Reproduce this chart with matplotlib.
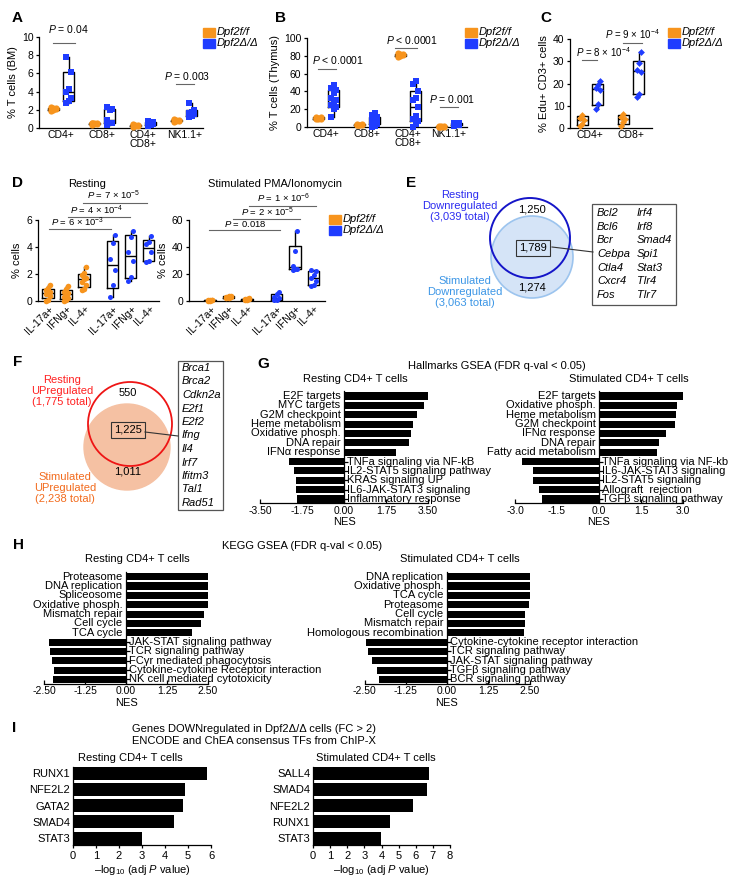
import numpy as np
import matplotlib
matplotlib.use("Agg")
from matplotlib import pyplot as plt
from matplotlib.patches import Circle, Rectangle

plt.rcParams["font.family"] = ["Liberation Sans", "DejaVu Sans"]
plt.rcParams["mathtext.fontset"] = "custom"
plt.rcParams["mathtext.rm"] = "Liberation Sans"
plt.rcParams["mathtext.it"] = "Liberation Sans:italic"
plt.rcParams["mathtext.bf"] = "Liberation Sans:bold"
plt.rcParams["font.size"] = 8
plt.rcParams["axes.linewidth"] = 0.9
plt.rcParams["xtick.major.width"] = 0.9
plt.rcParams["ytick.major.width"] = 0.9
plt.rcParams["xtick.major.size"] = 2.5
plt.rcParams["ytick.major.size"] = 2.5
plt.rcParams["xtick.labelsize"] = 7.5
plt.rcParams["ytick.labelsize"] = 7.5
plt.rcParams["xtick.major.pad"] = 1.5
plt.rcParams["ytick.major.pad"] = 1.5

ORANGE = "#F7941D"
BLUE = "#1F3CFF"

# ---------------- data ----------------
# A  % T cells (BM)
cats_A = ["CD4+", "CD8+", "CD4+\nCD8+", "NK1.1+"]
A_ff = [[1.9, 2.0, 2.1, 2.1, 2.2, 2.2, 2.3],
        [0.35, 0.4, 0.45, 0.5, 0.5, 0.55, 0.6],
        [0.15, 0.2, 0.25, 0.3, 0.3, 0.35, 0.4],
        [0.7, 0.75, 0.8, 0.85, 0.85, 0.9, 0.95]]
A_dd = [[2.7, 3.0, 3.3, 4.0, 4.3, 6.2, 7.8],
        [0.3, 0.5, 0.6, 0.9, 2.0, 2.1, 2.3],
        [0.2, 0.3, 0.4, 0.5, 0.6, 0.7, 0.8],
        [1.2, 1.3, 1.5, 1.7, 1.8, 2.0, 2.7]]

# B  % T cells (Thymus)
cats_B = ["CD4+", "CD8+", "CD4+\nCD8+", "NK1.1+"]
B_ff = [[8.5, 9, 9.5, 10, 10.5, 11, 11.5],
        [2, 2.3, 2.5, 2.7, 2.8, 3, 3.2],
        [79, 80, 80.5, 81, 81.5, 82, 83],
        [0.3, 0.4, 0.5, 0.5, 0.6, 0.7, 0.8]]
B_dd = [[11, 20, 22, 25, 28, 30, 33, 38, 42, 44, 47],
        [0.5, 1.5, 3, 4, 5, 6, 7, 9, 11, 14, 16],
        [0.5, 3, 7, 9, 12, 22, 30, 33, 41, 48, 52],
        [1.5, 2, 2.3, 2.6, 2.8, 3, 3.3, 3.6, 4, 4.4, 5]]

# C  % Edu+ CD3+ cells
cats_C = ["CD4+", "CD8+"]
C_ff = [[1, 2, 3.5, 4.5, 6], [1, 2.5, 4, 5, 6.5]]
C_dd = [[8.5, 11, 17, 18, 19.5, 21], [14, 15.5, 25, 26, 29, 34]]

# D  % cells, cytokines
cats_D = ["IL-17a+", "IFNg+", "IL-4+"]
D_rest_ff = [[0, 0.1, 0.4, 0.5, 0.6, 0.7, 0.8, 1.0, 1.2],
             [0, 0.05, 0.2, 0.3, 0.5, 0.6, 0.7, 0.9, 1.1],
             [0.8, 0.9, 1.2, 1.4, 1.6, 1.7, 1.9, 2.1, 2.5]]
D_rest_dd = [[0.3, 1.2, 2.3, 3.1, 4.3, 4.9],
             [1.5, 1.8, 3.0, 3.6, 4.75, 5.2],
             [2.9, 3.0, 3.6, 4.2, 4.4, 4.8]]
D_stim_ff = [[0, 0.2, 0.5, 0.5, 0.8, 1.0],
             [2, 2.5, 3, 3.2, 3.5, 4],
             [0.8, 1, 1.3, 1.5, 1.8, 2]]
D_stim_dd = [[0.5, 1, 2, 3, 5, 7],
             [23, 23.5, 24, 26, 37, 52],
             [11, 12, 15, 17, 19, 22, 23]]

# E / F  Venn counts and genes
E_counts = [1250, 1789, 1274]
E_genes_1 = ["Bcl2", "Bcl6", "Bcr", "Cebpa", "Ctla4", "Cxcr4", "Fos"]
E_genes_2 = ["Irf4", "Irf8", "Smad4", "Spi1", "Stat3", "Tlr4", "Tlr7"]
F_counts = [550, 1225, 1011]
F_genes = ["Brca1", "Brca2", "Cdkn2a", "E2f1", "E2f2", "Ifng", "Il4",
           "Irf7", "Ifitm3", "Tal1", "Rad51"]

# G  Hallmarks GSEA
G_rest_terms = ["E2F targets", "MYC targets", "G2M checkpoint", "Heme metabolism",
                "Oxidative phosph.", "DNA repair", "IFNα response",
                "TNFa signaling via NF-kB", "IL2-STAT5 signaling pathway",
                "KRAS signaling UP", "IL6-JAK-STAT3 signaling", "Inflammatory response"]
G_rest_nes = [3.48, 3.32, 3.03, 2.86, 2.8, 2.72, 2.15, -2.3, -2.08, -2.02, -1.98, -1.95]
G_stim_terms = ["E2F targets", "Oxidative phosph.", "Heme metabolism", "G2M checkpoint",
                "IFNα response", "DNA repair", "Fatty acid metabolism",
                "TNFa signaling via NF-kb", "IL6-JAK-STAT3 signaling",
                "IL2-STAT5 signaling", "Allograft  rejection", "TGFβ signaling pathway"]
G_stim_nes = [3.12, 2.78, 2.76, 2.72, 2.38, 2.13, 2.06, -2.76, -2.37, -2.35, -2.15, -2.02]

# H  KEGG GSEA
H_rest_terms = ["Proteasome", "DNA replication", "Spliceosome", "Oxidative phosph.",
                "Mismatch repair", "Cell cycle", "TCA cycle",
                "JAK-STAT signaling pathway", "TCR signaling pathway",
                "FCγr mediated phagocytosis", "Cytokine-cytokine Receptor interaction",
                "NK cell mediated cytotoxicity"]
H_rest_nes = [2.93, 2.84, 2.74, 2.65, 2.38, 2.29, 2.01, -2.35, -2.32, -2.26, -2.2, -2.23]
H_stim_terms = ["DNA replication", "Oxidative phosph.", "TCA cycle", "Proteasome",
                "Cell cycle", "Mismatch repair", "Homologous recombination",
                "Cytokine-cytokine receptor interaction", "TCR signaling pathway",
                "JAK-STAT signaling pathway", "TGFβ signaling pathway",
                "BCR signaling pathway"]
H_stim_nes = [2.77, 2.77, 2.5, 2.47, 2.35, 2.35, 2.34, -2.45, -2.4, -2.27, -2.12, -2.05]

# I  ChIP-X TF enrichment
I_rest_tfs = ["RUNX1", "NFE2L2", "GATA2", "SMAD4", "STAT3"]
I_rest_vals = [5.82, 4.87, 4.8, 4.38, 3.0]
I_stim_tfs = ["SALL4", "SMAD4", "NFE2L2", "RUNX1", "STAT3"]
I_stim_vals = [6.78, 6.67, 5.85, 4.5, 3.97]

# ---------------- figure ----------------
W, H = 746, 890
fig = plt.figure(figsize=(W / 100, H / 100), dpi=100)


def px_axes(l, t, r, b):
    return fig.add_axes([l / W, 1 - b / H, (r - l) / W, (b - t) / H])


def dotbox(ax, pos, pts, color, marker, s, bw, spread):
    q1, med, q3 = np.percentile(pts, [25, 50, 75], method="weibull")
    st = dict(med=med, q1=q1, q3=q3, whislo=min(pts), whishi=max(pts), fliers=[])
    lp = dict(color="black", lw=1.0)
    ax.bxp([st], positions=[pos], widths=bw, showfliers=False, showcaps=False,
           boxprops=lp, whiskerprops=lp, medianprops=lp, manage_ticks=False, zorder=2)
    offs = ((np.arange(len(pts)) % 3) - 1) * spread
    ax.scatter(pos + offs, pts, s=s, marker=marker, color=color, zorder=3,
               linewidths=0, clip_on=False)


def bracket(ax, x0, x1, y, label, tx, ty, fs=7.5, ha="center", va="center"):
    ax.plot([x0, x1], [y, y], color="#666666", lw=0.8, clip_on=False)
    ax.text(tx, ty, label, ha=ha, va=va, fontsize=fs, clip_on=False)


def clean(ax):
    ax.spines[["top", "right"]].set_visible(False)


# ---- A ----
axA = px_axes(39, 37, 203, 128)
xs = np.arange(len(cats_A))
for i in range(len(cats_A)):
    dotbox(axA, xs[i] - 0.19, A_ff[i], ORANGE, "o", 20, 0.27, 0.06)
    dotbox(axA, xs[i] + 0.19, A_dd[i], BLUE, "s", 17, 0.27, 0.06)
axA.set_xlim(-0.54, 3.46)
axA.set_ylim(0, 10)
axA.set_xticks(xs, cats_A, linespacing=0.9)
axA.set_yticks([0, 2, 4, 6, 8, 10])
axA.tick_params(axis="x", length=0)
axA.set_ylabel("% T cells (BM)", labelpad=3)
clean(axA)
bracket(axA, -0.2, 0.34, 9.35, "$P$ = 0.04", 0.17, 10.9)
bracket(axA, 2.8, 3.24, 4.8, "$P$ = 0.003", 3.07, 5.7)

# ---- B ----
axB = px_axes(307, 38, 467, 127)
xs = np.arange(len(cats_B))
for i in range(len(cats_B)):
    dotbox(axB, xs[i] - 0.19, B_ff[i], ORANGE, "o", 20, 0.27, 0.06)
    dotbox(axB, xs[i] + 0.19, B_dd[i], BLUE, "s", 17, 0.27, 0.06)
axB.set_xlim(-0.46, 3.44)
axB.set_ylim(0, 100)
axB.set_xticks(xs, cats_B, linespacing=0.9)
axB.set_yticks([0, 20, 40, 60, 80, 100])
axB.tick_params(axis="x", length=0)
axB.set_ylabel("% T cells (Thymus)", labelpad=3)
clean(axB)
bracket(axB, -0.2, 0.24, 65, "$P$ < 0.0001", 0.29, 75)
bracket(axB, 1.68, 2.22, 88.7, "$P$ < 0.0001", 2.09, 97.5)
bracket(axB, 2.78, 3.22, 22.5, "$P$ = 0.001", 3.07, 31.5)

# ---- C ----
axC = px_axes(570, 39, 652, 128)
xs = np.arange(len(cats_C))
for i in range(len(cats_C)):
    dotbox(axC, xs[i] - 0.19, C_ff[i], ORANGE, "D", 12, 0.27, 0.05)
    dotbox(axC, xs[i] + 0.19, C_dd[i], BLUE, "D", 12, 0.27, 0.05)
axC.set_xlim(-0.49, 1.51)
axC.set_ylim(0, 40)
axC.set_xticks(xs, cats_C)
axC.set_yticks([0, 10, 20, 30, 40])
axC.tick_params(axis="x", length=0)
axC.set_ylabel("% Edu+ CD3+ cells", labelpad=3)
clean(axC)
bracket(axC, -0.2, 0.17, 30.5, r"$P$ = 8 × 10$^{-4}$", 0.32, 34.2, fs=7)
bracket(axC, 0.8, 1.27, 38, r"$P$ = 9 × 10$^{-4}$", 1.02, 42, fs=7)

# ---- D ----
pos_ff = np.array([1, 2, 3])
pos_dd = np.array([4.6, 5.6, 6.6])
for (l, r, xl, ymax, yt, dff, ddd) in [(38, 159, (0.444, 7.17), 6, [0, 2, 4, 6], D_rest_ff, D_rest_dd),
                                        (189, 325, (-0.14, 7.22), 60, [0, 20, 40, 60], D_stim_ff, D_stim_dd)]:
    ax = px_axes(l, 220, r, 301)
    for i in range(3):
        dotbox(ax, pos_ff[i], dff[i], ORANGE, "o", 16, 0.62, 0.13)
        dotbox(ax, pos_dd[i], ddd[i], BLUE, "o", 13, 0.62, 0.13)
    ax.set_xlim(*xl)
    ax.set_ylim(0, ymax)
    ax.set_yticks(yt)
    ax.set_xticks(np.concatenate([pos_ff, pos_dd]), cats_D * 2, rotation=45,
                  ha="right", rotation_mode="anchor")
    ax.tick_params(axis="x", length=0, pad=2)
    ax.set_ylabel("% cells", labelpad=3)
    clean(ax)
    if ymax == 6:
        axDl = ax
    else:
        axDr = ax

bracket(axDl, 2.94, 6.5, 7.26, r"$P$ = 7 × 10$^{-5}$", 3.15, 7.3, fs=6.8, ha="left", va="bottom")
bracket(axDl, 2.11, 5.56, 6.2, r"$P$ = 4 × 10$^{-4}$", 2.2, 6.24, fs=6.8, ha="left", va="bottom")
bracket(axDl, 1.05, 4.5, 5.33, r"$P$ = 6 × 10$^{-3}$", 1.15, 5.37, fs=6.8, ha="left", va="bottom")
bracket(axDr, 3.1, 6.73, 70.6, r"$P$ = 1 × 10$^{-6}$", 5.0, 71.0, fs=6.8, va="bottom")
bracket(axDr, 2.24, 5.86, 60.7, r"$P$ = 2 × 10$^{-5}$", 4.1, 61.1, fs=6.8, va="bottom")
bracket(axDr, 0.95, 4.78, 52.6, "$P$ = 0.018", 2.9, 53.0, fs=6.8, va="bottom")


# ---- G / H ----
def gsea(ax, terms, nes, lim, ticks, fmt):
    y = np.arange(len(terms))
    ax.barh(y, nes, height=0.76, color="black")
    ax.set_xlim(-lim, lim)
    ax.set_ylim(len(terms) - 0.57, -0.5)
    clean(ax)
    ax.spines["left"].set_position(("data", 0))
    neg = y[np.array(nes) < 0]
    ax.set_yticks(neg, [""] * len(neg))
    ax.tick_params(axis="y", direction="in", length=3)
    ax.set_xticks(ticks, [fmt.format(t) for t in ticks])
    ax.tick_params(axis="x", direction="in", length=3, pad=2)
    for yi, t, v in zip(y, terms, nes):
        if v > 0:
            ax.annotate(t, (0, yi), xytext=(-2.5, 0), textcoords="offset points",
                        ha="right", va="center", fontsize=8)
        else:
            ax.annotate(t, (0, yi), xytext=(2.5, 0), textcoords="offset points",
                        ha="left", va="center", fontsize=8)
    ax.set_xlabel("NES", labelpad=1, fontsize=8)


gsea(px_axes(260, 391.3, 428, 503), G_rest_terms, G_rest_nes, 3.5,
     [-3.5, -1.75, 0, 1.75, 3.5], "{:.2f}")
gsea(px_axes(515, 391.3, 683, 503), G_stim_terms, G_stim_nes, 3.0,
     [-3.0, -1.5, 0, 1.5, 3.0], "{:.1f}")
gsea(px_axes(44, 572, 208, 683.5), H_rest_terms, H_rest_nes, 2.5,
     [-2.5, -1.25, 0, 1.25, 2.5], "{:.2f}")
gsea(px_axes(364.5, 572, 529.5, 683.5), H_stim_terms, H_stim_nes, 2.5,
     [-2.5, -1.25, 0, 1.25, 2.5], "{:.2f}")

# ---- I ----
for (l, r, tfs, vals, xmax) in [(73, 211, I_rest_tfs, I_rest_vals, 6),
                               (313, 450, I_stim_tfs, I_stim_vals, 8)]:
    ax = px_axes(l, 766.5, r, 845)
    y = np.arange(len(tfs))
    ax.barh(y, vals, height=0.8, color="black")
    ax.set_xlim(0, xmax)
    ax.set_ylim(len(tfs) - 0.57, -0.4)
    ax.set_yticks(y, tfs, fontsize=8)
    ax.tick_params(axis="y", length=0, pad=2)
    ax.set_xticks(range(xmax + 1))
    ax.tick_params(axis="x", labelsize=8)
    ax.set_xlabel(r"–log$_{10}$ (adj $P$ value)", fontsize=8, labelpad=2)
    clean(ax)

# ---- overlay: labels, legends, Venn diagrams ----
ov = fig.add_axes([0, 0, 1, 1])
ov.set_xlim(0, W)
ov.set_ylim(H, 0)
ov.axis("off")

for lab, x, y in [("A", 12, 18), ("B", 275, 18), ("C", 540, 18), ("D", 12, 183),
                  ("E", 406, 183), ("F", 13, 362), ("G", 257, 364), ("H", 13, 545),
                  ("I", 12, 728)]:
    ov.text(x, y, lab, fontsize=11, fontweight="bold", ha="left", va="center")

for x, y in [(203, 32), (465, 32), (668, 32), (329, 219)]:
    ov.add_patch(Rectangle((x, y - 4.5), 12, 9, color=ORANGE))
    ov.add_patch(Rectangle((x, y + 6.5), 12, 9, color=BLUE))
    ov.text(x + 14, y, "Dpf2f/f", style="italic", fontsize=8, va="center")
    ov.text(x + 14, y + 11, "Dpf2Δ/Δ", style="italic", fontsize=8, va="center")

ov.text(87, 184, "Resting", ha="center", va="center", fontsize=8)
ov.text(275, 184, "Stimulated PMA/Ionomycin", ha="center", va="center", fontsize=8)

# E Venn
ov.add_patch(Circle((532, 257), 41, fc="#D5E4F7", ec="#9CC4EE", lw=1.2))
ov.add_patch(Circle((530, 238), 40, fc="none", ec="#1515C8", lw=1.4))
ov.text(532, 210, f"{E_counts[0]:,}", ha="center", va="center", fontsize=8)
ov.text(533, 248, f"{E_counts[1]:,}", ha="center", va="center", fontsize=8,
        bbox=dict(boxstyle="square,pad=0.3", fc="none", ec="#333333", lw=0.8))
ov.text(532, 287, f"{E_counts[2]:,}", ha="center", va="center", fontsize=8)
ov.text(460, 206, "Resting\nDownregulated\n(3,039 total)", ha="center", va="center",
        fontsize=8, color="#2B2BF0", linespacing=1.15)
ov.text(465, 292, "Stimulated\nDownregulated\n(3,063 total)", ha="center", va="center",
        fontsize=8, color="#3C96E6", linespacing=1.15)
ov.plot([552, 593], [247, 252], color="#333333", lw=0.8)
ov.add_patch(Rectangle((592, 204), 84, 101, fill=False, ec="#555555", lw=0.9))
for k, (g1, g2) in enumerate(zip(E_genes_1, E_genes_2)):
    ov.text(597, 213 + 13.7 * k, g1, style="italic", fontsize=8, va="center")
    ov.text(637, 213 + 13.7 * k, g2, style="italic", fontsize=8, va="center")

# F Venn
ov.add_patch(Circle((127, 447), 43, fc="#F5C1A3", ec="#F5C1A3", lw=1.0))
ov.add_patch(Circle((130, 424), 42, fc="none", ec="#EE1515", lw=1.3))
ov.text(128, 393, f"{F_counts[0]:,}", ha="center", va="center", fontsize=8)
ov.text(128, 430, f"{F_counts[1]:,}", ha="center", va="center", fontsize=8,
        bbox=dict(boxstyle="square,pad=0.3", fc="none", ec="#333333", lw=0.8))
ov.text(128, 472, f"{F_counts[2]:,}", ha="center", va="center", fontsize=8)
ov.text(62, 391, "Resting\nUPregulated\n(1,775 total)", ha="center", va="center",
        fontsize=8, color="#FF2020", linespacing=1.15)
ov.text(65, 488, "Stimulated\nUPregulated\n(2,238 total)", ha="center", va="center",
        fontsize=8, color="#F26B1D", linespacing=1.15)
ov.plot([145, 178], [432, 436], color="#333333", lw=0.8)
ov.add_patch(Rectangle((178, 361), 45, 149, fill=False, ec="#555555", lw=0.9))
for k, g in enumerate(F_genes):
    ov.text(182, 368 + 13.5 * k, g, style="italic", fontsize=8, va="center")

# G / H / I titles
ov.text(497, 366, "Hallmarks GSEA (FDR q-val < 0.05)", ha="center", va="center", fontsize=8)
ov.text(355, 379, "Resting CD4+ T cells", ha="center", va="center", fontsize=8)
ov.text(629, 379, "Stimulated CD4+ T cells", ha="center", va="center", fontsize=8)
ov.text(302, 546, "KEGG GSEA (FDR q-val < 0.05)", ha="center", va="center", fontsize=8)
ov.text(137, 559, "Resting CD4+ T cells", ha="center", va="center", fontsize=8)
ov.text(460, 559, "Stimulated CD4+ T cells", ha="center", va="center", fontsize=8)
ov.text(254, 735, "Genes DOWNregulated in Dpf2Δ/Δ cells (FC > 2)\n"
        "ENCODE and ChEA consensus TFs from ChIP-X", ha="center", va="center",
        fontsize=8, linespacing=1.2)
ov.text(130, 758, "Resting CD4+ T cells", ha="center", va="center", fontsize=8)
ov.text(376, 758, "Stimulated CD4+ T cells", ha="center", va="center", fontsize=8)

plt.savefig("out.png", dpi=100)
